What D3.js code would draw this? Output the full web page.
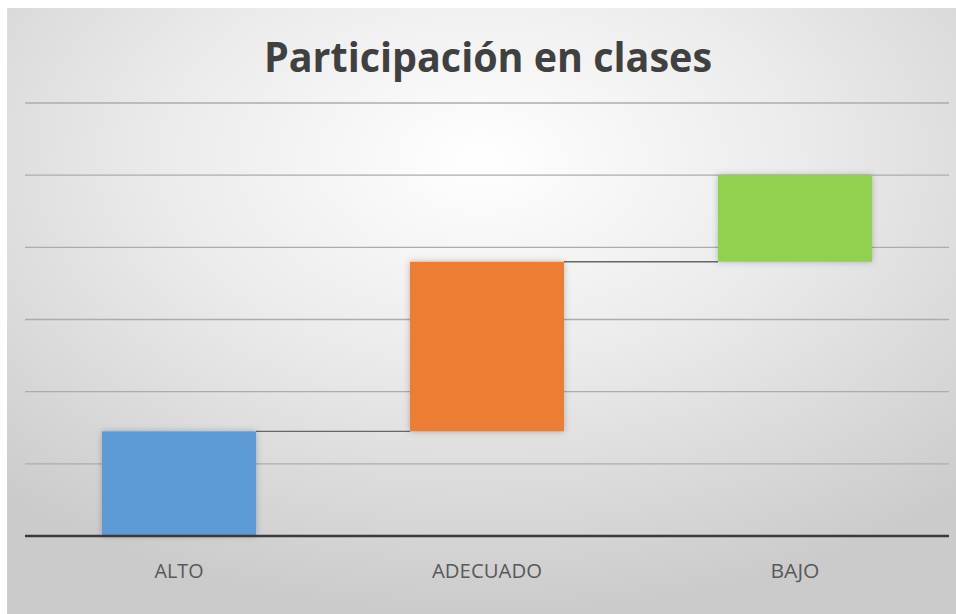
<!DOCTYPE html>
<html>
<head>
<meta charset="utf-8">
<script src="https://cdn.jsdelivr.net/npm/d3@7"></script>
<style>
  body { margin: 0; background: #fff; }
  svg { display: block; }
</style>
</head>
<body>
<div id="chart"></div>
<script>
// waterfall data
var categories = ["ALTO", "ADECUADO", "BAJO"];
var values = [29, 47, 24];
var colors = ["#5b9bd5", "#ed7d31", "#92d050"];
var gridTicks = [20, 40, 60, 80, 100, 120];

var svgWidth = 956;
var svgHeight = 614;

var margin = { top: 103, right: 7, bottom: 78, left: 25 };
var width = svgWidth - margin.left - margin.right;
var height = svgHeight - margin.top - margin.bottom;

var svg = d3.select("#chart")
  .append("svg")
  .attr("width", svgWidth)
  .attr("height", svgHeight);

var defs = svg.append("defs");
var grad = defs.append("radialGradient")
  .attr("id", "bg")
  .attr("cx", "50%").attr("cy", "25%")
  .attr("r", "75%");
grad.append("stop").attr("offset", "0%").attr("stop-color", "#ffffff");
grad.append("stop").attr("offset", "45%").attr("stop-color", "#ebebeb");
grad.append("stop").attr("offset", "100%").attr("stop-color", "#cbcbcb");

var shadow = defs.append("filter").attr("id", "shadow")
  .attr("x", "-20%").attr("y", "-20%").attr("width", "140%").attr("height", "140%");
shadow.append("feDropShadow")
  .attr("dx", 0).attr("dy", 0).attr("stdDeviation", 3)
  .attr("flood-color", "#000").attr("flood-opacity", 0.25);

svg.append("rect")
  .attr("x", 7).attr("y", 8)
  .attr("width", svgWidth - 7).attr("height", svgHeight - 8)
  .attr("fill", "url(#bg)");

var chartGroup = svg.append("g")
  .attr("transform", `translate(${margin.left}, ${margin.top})`);

var x = d3.scaleBand()
  .domain(categories)
  .range([0, width])
  .paddingInner(0.5)
  .paddingOuter(0.25);

var y = d3.scaleLinear()
  .domain([0, 120])
  .range([height, 0]);

// gridlines
chartGroup.selectAll(".grid")
  .data(gridTicks)
  .enter()
  .append("line")
  .attr("x1", 0)
  .attr("x2", width)
  .attr("y1", d => y(d))
  .attr("y2", d => y(d))
  .attr("stroke", "#acacac")
  .attr("stroke-width", 1.3);

// running totals
var start = [];
var total = 0;
values.forEach(v => { start.push(total); total += v; });

// connectors
chartGroup.selectAll(".conn")
  .data(values.slice(0, -1))
  .enter()
  .append("line")
  .attr("x1", (d, i) => x(categories[i]) + x.bandwidth())
  .attr("x2", (d, i) => x(categories[i + 1]))
  .attr("y1", (d, i) => y(start[i] + d))
  .attr("y2", (d, i) => y(start[i] + d))
  .attr("stroke", "#666666")
  .attr("stroke-width", 1.3);

// bars
chartGroup.selectAll(".bar")
  .data(values)
  .enter()
  .append("rect")
  .attr("x", (d, i) => x(categories[i]))
  .attr("y", (d, i) => y(start[i] + d))
  .attr("width", x.bandwidth())
  .attr("height", (d, i) => y(start[i]) - y(start[i] + d))
  .attr("fill", (d, i) => colors[i])
  .attr("filter", "url(#shadow)");

// baseline
chartGroup.append("line")
  .attr("x1", 0).attr("x2", width)
  .attr("y1", y(0)).attr("y2", y(0))
  .attr("stroke", "#3a3a3a")
  .attr("stroke-width", 2.5);

// category labels
var labelWidths = { "ALTO": 49, "ADECUADO": 110, "BAJO": 49 };
chartGroup.selectAll(".cat")
  .data(categories)
  .enter()
  .append("text")
  .attr("x", d => x(d) + x.bandwidth() / 2)
  .attr("y", height + 42)
  .attr("text-anchor", "middle")
  .attr("font-family", "'Liberation Sans Narrow', 'Open Sans', sans-serif")
  .attr("font-size", "20px")
  .attr("fill", "#595959")
  .attr("textLength", d => labelWidths[d])
  .attr("lengthAdjust", "spacingAndGlyphs")
  .text(d => d);

// title
svg.append("text")
  .attr("x", 488)
  .attr("y", 72)
  .attr("text-anchor", "middle")
  .attr("font-family", "'Open Sans', sans-serif")
  .attr("font-weight", "bold")
  .attr("font-size", "41px")
  .attr("fill", "#404040")
  .attr("textLength", 448)
  .attr("lengthAdjust", "spacingAndGlyphs")
  .text("Participación en clases");
</script>
</body>
</html>
